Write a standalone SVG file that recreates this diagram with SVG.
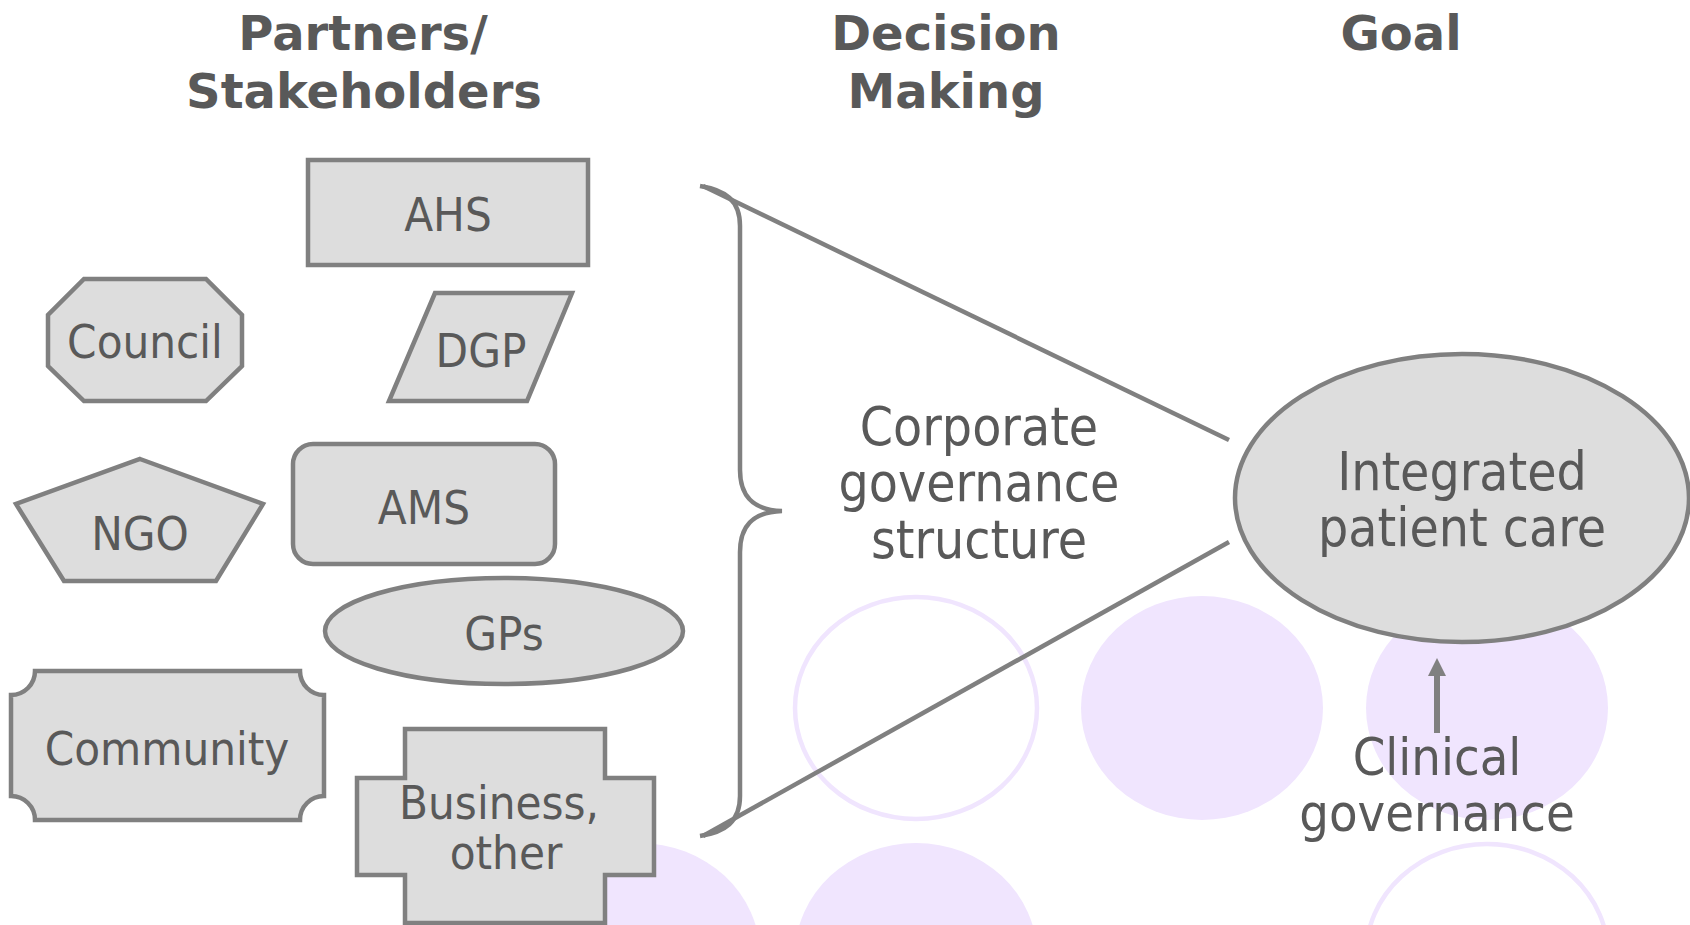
<svg xmlns="http://www.w3.org/2000/svg" width="1690" height="925" viewBox="0 0 1690 925">
<style>
.shape{fill:#dddddd;stroke:#808080;stroke-width:4.5}
.lbl{font-family:"DejaVu Sans Condensed","DejaVu Sans",sans-serif;font-stretch:condensed;font-size:47px;fill:#595959;text-anchor:middle}
.big{font-size:53px}
.ttl{font-family:"DejaVu Sans","Liberation Sans",sans-serif;font-weight:bold;font-size:48px;fill:#595959;text-anchor:middle}
.bg{fill:#f0e5fe}
.bgo{fill:none;stroke:#f0e5fe;stroke-width:4.5}
.conn{fill:none;stroke:#808080;stroke-width:4.5}
</style>
<defs>
<marker id="ah" viewBox="0 0 10 10" refX="0" refY="5" markerWidth="3" markerHeight="3" orient="auto">
<path d="M0,0 L10,5 L0,10 z" fill="#808080"/>
</marker>
</defs>
<rect width="1690" height="925" fill="#ffffff"/>
<g id="background">
<ellipse class="bgo" cx="916" cy="708" rx="121" ry="111"/>
<ellipse class="bg" cx="1202" cy="708" rx="121" ry="112"/>
<ellipse class="bg" cx="1487" cy="708" rx="121" ry="112"/>
<ellipse class="bg" cx="639" cy="955" rx="121" ry="112"/>
<ellipse class="bg" cx="916" cy="955" rx="121" ry="112"/>
<ellipse class="bgo" cx="1487" cy="955" rx="121" ry="111"/>
</g>
<g id="titles">
<text class="ttl" x="363" y="50">Partners/</text>
<text class="ttl" x="364" y="108">Stakeholders</text>
<text class="ttl" x="946" y="50">Decision</text>
<text class="ttl" x="946" y="108">Making</text>
<text class="ttl" x="1401" y="50">Goal</text>
</g>
<g id="connectors">
<path class="conn" d="M700,186 C725,190 740,200 740,226 L740,470 C740,495 752,510 782,511 C752,512 740,527 740,552 L740,796 C740,822 725,832 700,836"/>
<line class="conn" x1="703" y1="186" x2="1229" y2="440"/>
<line class="conn" x1="703" y1="836" x2="1229" y2="542"/>
<line class="conn" style="stroke-width:6" x1="1437" y1="733" x2="1437" y2="676" marker-end="url(#ah)"/>
</g>
<g id="node-ahs">
<rect class="shape" x="308" y="160" width="280" height="105"/>
<text class="lbl" x="448" y="231">AHS</text>
</g>
<g id="node-council">
<polygon class="shape" points="84,279 206,279 242,315 242,366 206,401 84,401 48,366 48,315"/>
<text class="lbl" x="145" y="358">Council</text>
</g>
<g id="node-dgp">
<polygon class="shape" points="435,293 572,293 527,401 389,401"/>
<text class="lbl" x="481" y="367">DGP</text>
</g>
<g id="node-ngo">
<polygon class="shape" points="140,459 263,504 216,581 64,581 16,504"/>
<text class="lbl" x="140" y="550">NGO</text>
</g>
<g id="node-ams">
<rect class="shape" x="293" y="444" width="262" height="120" rx="20" ry="20"/>
<text class="lbl" x="424" y="524">AMS</text>
</g>
<g id="node-gps">
<ellipse class="shape" cx="504" cy="631" rx="179" ry="53"/>
<text class="lbl" x="504" y="650">GPs</text>
</g>
<g id="node-community">
<path class="shape" d="M35,671 L300,671 A24,24 0 0 0 324,695 L324,796 A24,24 0 0 0 300,820 L35,820 A24,24 0 0 0 11,796 L11,695 A24,24 0 0 0 35,671 Z"/>
<text class="lbl" x="167" y="765">Community</text>
</g>
<g id="node-business">
<polygon class="shape" points="405,729 605,729 605,778 654,778 654,875 605,875 605,923 405,923 405,875 357,875 357,778 405,778"/>
<text class="lbl" x="499" y="819">Business,</text>
<text class="lbl" x="506" y="869">other</text>
</g>
<g id="node-corporate">
<text class="lbl big" x="979" y="445">Corporate</text>
<text class="lbl big" x="979" y="501">governance</text>
<text class="lbl big" x="979" y="558">structure</text>
</g>
<g id="node-integrated">
<ellipse class="shape" cx="1462" cy="498" rx="227" ry="144"/>
<text class="lbl big" x="1462" y="490">Integrated</text>
<text class="lbl big" x="1462" y="546">patient care</text>
</g>
<g id="node-clinical">
<text class="lbl" style="font-size:52px" x="1437" y="775">Clinical</text>
<text class="lbl" style="font-size:52px" x="1437" y="831">governance</text>
</g>
</svg>
